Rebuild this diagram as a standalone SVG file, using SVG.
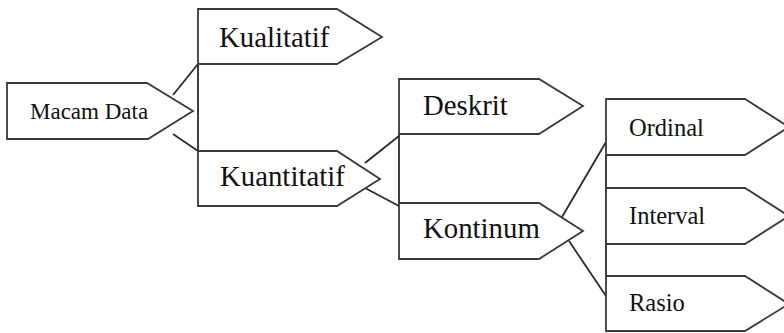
<svg xmlns="http://www.w3.org/2000/svg" width="784" height="333" viewBox="0 0 784 333">
<style>
.box{fill:#fff;stroke:#3a3a3a;stroke-width:1.8;stroke-linejoin:miter}
.con{fill:none;stroke:#2a2a2a;stroke-width:1.8}
text{font-family:"Liberation Serif","Times New Roman",serif;fill:#111}
.l2{font-size:28.8px}
.l4{font-size:24.5px}
.l1{font-size:23px}
</style>
<rect width="784" height="333" fill="#fff"/>
<g id="connectors">
<line class="con" x1="173" y1="95" x2="198" y2="64"/>
<line class="con" x1="173" y1="134" x2="198" y2="151"/>
<line class="con" x1="198" y1="64" x2="198" y2="151"/>
<line class="con" x1="365" y1="163" x2="399" y2="136"/>
<line class="con" x1="365" y1="188" x2="399" y2="206"/>
<line class="con" x1="399" y1="134" x2="399" y2="203"/>
<line class="con" x1="562" y1="217" x2="606" y2="142"/>
<line class="con" x1="569" y1="241" x2="606" y2="296"/>
<line class="con" x1="606" y1="155" x2="606" y2="277"/>
</g>
<g id="macam-data">
<polygon class="box" points="7,83 147,83 193,111 148,139 7,139"/>
<text class="l1" x="30" y="119">Macam Data</text>
</g>
<g id="kualitatif">
<polygon class="box" points="198,9 337,9 382,37 337,64 198,64"/>
<text class="l2" x="219" y="47">Kualitatif</text>
</g>
<g id="kuantitatif">
<polygon class="box" points="198,151 337,151 380,179 337,206 198,206"/>
<text class="l2" x="220" y="186">Kuantitatif</text>
</g>
<g id="deskrit">
<polygon class="box" points="399,79 539,79 583,106 539,134 399,134"/>
<text class="l2" x="423" y="115">Deskrit</text>
</g>
<g id="kontinum">
<polygon class="box" points="399,203 539,203 583,231 539,259 399,259"/>
<text class="l2" x="423" y="238">Kontinum</text>
</g>
<g id="ordinal">
<polygon class="box" points="606,99 745,99 789,127 745,155 606,155"/>
<text class="l4" x="629" y="136">Ordinal</text>
</g>
<g id="interval">
<polygon class="box" points="606,188 745,188 789,216 745,244 606,244"/>
<text class="l4" x="629" y="224">Interval</text>
</g>
<g id="rasio">
<polygon class="box" points="606,276 745,276 789,304 745,331 606,331"/>
<text class="l4" x="629" y="311">Rasio</text>
</g>
</svg>
